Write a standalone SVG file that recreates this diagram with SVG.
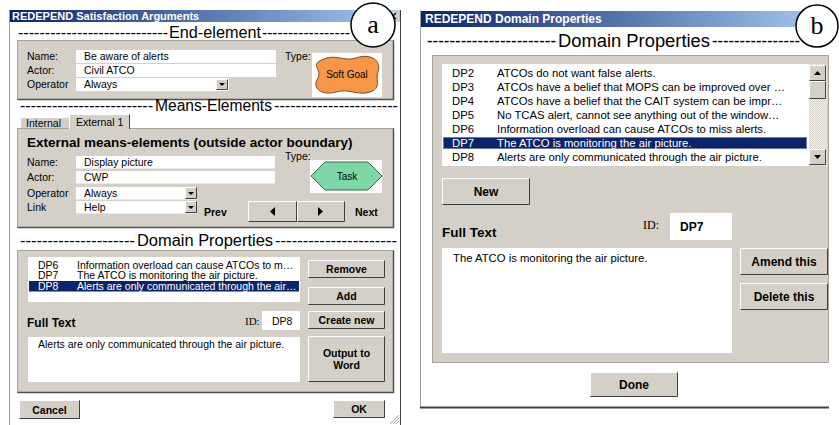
<svg xmlns="http://www.w3.org/2000/svg" width="839" height="425" viewBox="0 0 839 425">
<defs>
<linearGradient id="tb" x1="0" x2="1" y1="0" y2="0"><stop offset="0" stop-color="#0a246a"/><stop offset="1" stop-color="#a6caf0"/></linearGradient>
<pattern id="dither" width="2" height="2" patternUnits="userSpaceOnUse"><rect width="2" height="2" fill="#f4f3ef"/><rect width="1" height="1" fill="#d4d0c8"/><rect x="1" y="1" width="1" height="1" fill="#d4d0c8"/></pattern>
</defs>
<style>
text{font-family:"Liberation Sans",Arial,sans-serif;fill:#000}
.ttl{font-weight:bold;fill:#fff}
.hdr{font-size:16px}
.hdr2{font-size:18px}
.s{font-size:10.5px}
.m{font-size:11.3px}
.b{font-weight:bold}
.c{text-anchor:middle}
.wt{fill:#fff}
.ser{font-family:"Liberation Serif","Times New Roman",serif}
.panel{fill:#d4d0c8;stroke:#a8a49c}
.psh{fill:none;stroke:#505050;stroke-width:1.5}
.box{fill:#fff}
.btn{fill:#d4d0c8}
.hl{fill:none;stroke:#fff}
.sh{fill:none;stroke:#404040}
.sel{fill:#0a246a}
.tri{fill:#000}
.circ{fill:#fff;stroke:#000;stroke-width:1.5}
</style>

<g id="window-a">
<rect x="9" y="10" width="392" height="415" fill="#fff"/>
<line x1="9.5" y1="10" x2="9.5" y2="425" stroke="#a0a0a0"/>
<line x1="400.5" y1="10" x2="400.5" y2="425" stroke="#404040"/>
<rect x="10" y="10" width="390" height="12" fill="url(#tb)"/>
<text x="12" y="20" class="ttl" font-size="11">REDEPEND Satisfaction Arguments</text>
<g id="close-a"><rect x="387" y="11" width="12" height="10" class="btn"/><path d="M390 13 L396 19 M396 13 L390 19" stroke="#000" stroke-width="1.3"/></g>
</g>

<g id="end-element">
<text x="18" y="38" class="hdr" textLength="150" lengthAdjust="spacingAndGlyphs">----------------------------</text>
<text x="169" y="38" class="hdr" textLength="92" lengthAdjust="spacingAndGlyphs">End-element</text>
<text x="262" y="38" class="hdr" textLength="88" lengthAdjust="spacingAndGlyphs">-----------------</text>
<rect x="17.5" y="40.5" width="376" height="59" class="panel"/>
<path d="M17.5 99.5 H393.5 V40.5" class="psh"/>
<text x="27" y="60" class="s">Name:</text>
<text x="27" y="74" class="s">Actor:</text>
<text x="27" y="88" class="s">Operator</text>
<rect x="76" y="50" width="200" height="13" class="box"/>
<rect x="76" y="64" width="200" height="13" class="box"/>
<rect x="76" y="78" width="153" height="13" class="box"/>
<rect x="216" y="79" width="12" height="11" class="btn"/><path class="hl" d="M216.5 89 V79.5 H227"/><path class="sh" d="M216.5 89.5 H227.5 V79.5"/><polygon class="tri" points="219,83 225,83 222,86"/>
<text x="84" y="60" class="s">Be aware of alerts</text>
<text x="84" y="74" class="s">Civil ATCO</text>
<text x="84" y="88" class="s">Always</text>
<text x="285" y="60" class="s">Type:</text>
<rect x="312" y="53" width="70" height="44" fill="#fff"/>
<path d="M322 60 C334 53 344 62 356 58 C370 53 382 60 378 72 C375 80 382 88 370 92 C358 96 348 88 336 92 C322 96 311 88 318 78 C322 70 310 64 322 60 Z" fill="#f79646" stroke="#7a4a2a"/>
<text x="347" y="78" class="c" font-size="10">Soft Goal</text>
</g>

<g id="means-elements">
<text x="20" y="111" class="hdr" textLength="133" lengthAdjust="spacingAndGlyphs">-------------------------</text>
<text x="155" y="111" class="hdr" textLength="117" lengthAdjust="spacingAndGlyphs">Means-Elements</text>
<text x="274" y="111" class="hdr" textLength="124" lengthAdjust="spacingAndGlyphs">-----------------------</text>
<rect x="20" y="117" width="49" height="12" class="btn"/><path class="hl" d="M20.5 129 V117.5 H68"/>
<text x="26" y="126.5" class="s">Internal</text>
<rect x="17.5" y="128.5" width="376" height="99" class="panel"/>
<path d="M17.5 227.5 H393.5 V128.5" class="psh"/>
<rect x="69" y="114" width="61" height="16" class="btn"/><path class="hl" d="M69.5 129 V114.5 H129"/><path d="M129.5 114.5 V129" stroke="#404040"/>
<text x="76" y="125.5" class="s">External 1</text>
<text x="27" y="147" class="b" font-size="13.5">External means-elements (outside actor boundary)</text>
<text x="27" y="166" class="s">Name:</text>
<text x="27" y="181" class="s">Actor:</text>
<text x="27" y="197" class="s">Operator</text>
<text x="27" y="211" class="s">Link</text>
<rect x="76" y="156" width="199" height="12.5" class="box"/>
<rect x="76" y="171" width="199" height="12.5" class="box"/>
<rect x="76" y="187" width="121" height="12.5" class="box"/>
<rect x="76" y="201" width="121" height="12.5" class="box"/>
<rect x="185" y="187" width="12" height="12" class="btn"/><path class="hl" d="M185.5 198 V187.5 H196"/><path class="sh" d="M185.5 198.5 H196.5 V187.5"/><polygon class="tri" points="188,192 194,192 191,195"/>
<rect x="185" y="201" width="12" height="12" class="btn"/><path class="hl" d="M185.5 212 V201.5 H196"/><path class="sh" d="M185.5 212.5 H196.5 V201.5"/><polygon class="tri" points="188,206 194,206 191,209"/>
<text x="84" y="166" class="s">Display picture</text>
<text x="84" y="181" class="s">CWP</text>
<text x="84" y="197" class="s">Always</text>
<text x="84" y="211" class="s">Help</text>
<text x="285" y="160" class="s">Type:</text>
<rect x="310" y="160" width="72" height="33" fill="#fff"/>
<polygon points="311,176 325,162 368,162 382,176 368,190 325,190" fill="#80d6a6" stroke="#2f6b4a"/>
<text x="347" y="180" class="c" font-size="10">Task</text>
<text x="204" y="216" class="s b">Prev</text>
<rect x="248" y="201" width="49" height="21" class="btn"/><path class="hl" d="M248.5 221 V201.5 H296"/><path class="sh" d="M248.5 221.5 H296.5 V201.5"/><polygon class="tri" points="270,211.5 275,207 275,216"/>
<rect x="297" y="201" width="48" height="21" class="btn"/><path class="hl" d="M297.5 221 V201.5 H344"/><path class="sh" d="M297.5 221.5 H344.5 V201.5"/><polygon class="tri" points="318,207 318,216 323,211.5"/>
<text x="355" y="216" class="s b">Next</text>
</g>

<g id="domain-properties-a">
<text x="20" y="246" class="hdr" textLength="115" lengthAdjust="spacingAndGlyphs" fill="#333">---------------------</text>
<text x="137" y="246" class="hdr" textLength="136" lengthAdjust="spacingAndGlyphs">Domain Properties</text>
<text x="275" y="246" class="hdr" textLength="122" lengthAdjust="spacingAndGlyphs">----------------------</text>
<rect x="17.5" y="250.5" width="376" height="142" class="panel"/>
<path d="M17.5 392.5 H393.5 V250.5" class="psh"/>
<rect x="28" y="257" width="272" height="45" class="box"/>
<rect x="29" y="281" width="270" height="10.5" class="sel"/>
<text x="38" y="268.5" class="s">DP6</text><text x="77" y="268.5" class="s">Information overload can cause ATCOs to m…</text>
<text x="38" y="279" class="s">DP7</text><text x="77" y="279" class="s">The ATCO is monitoring the air picture.</text>
<text x="38" y="289.5" class="s wt">DP8</text><text x="77" y="289.5" class="s wt">Alerts are only communicated through the air…</text>
<rect x="308" y="260" width="77" height="18" class="btn"/><path class="hl" d="M308.5 277 V260.5 H384"/><path class="sh" d="M308.5 277.5 H384.5 V260.5"/>
<text x="346.5" y="273" class="s b c">Remove</text>
<rect x="308" y="287" width="77" height="18" class="btn"/><path class="hl" d="M308.5 304 V287.5 H384"/><path class="sh" d="M308.5 304.5 H384.5 V287.5"/>
<text x="346.5" y="300" class="s b c">Add</text>
<rect x="308" y="311" width="77" height="18" class="btn"/><path class="hl" d="M308.5 328 V311.5 H384"/><path class="sh" d="M308.5 328.5 H384.5 V311.5"/>
<text x="346.5" y="324" class="s b c">Create new</text>
<rect x="308" y="336" width="77" height="46" class="btn"/><path class="hl" d="M308.5 381 V336.5 H384"/><path class="sh" d="M308.5 381.5 H384.5 V336.5"/>
<text x="346.5" y="357" class="s b c">Output to</text>
<text x="346.5" y="369" class="s b c">Word</text>
<text x="27" y="327" class="b" font-size="12">Full Text</text>
<text x="245" y="325" class="ser" font-size="11">ID:</text>
<rect x="262" y="311" width="38" height="19" class="box"/>
<text x="272" y="324.5" class="s">DP8</text>
<rect x="28" y="337" width="272" height="45" class="box"/>
<text x="38" y="348" class="s">Alerts are only communicated through the air picture.</text>
</g>

<g id="footer-a">
<rect x="19" y="400" width="61" height="19" class="btn"/><path class="hl" d="M19.5 418 V400.5 H79"/><path class="sh" d="M19.5 418.5 H79.5 V400.5"/>
<text x="49.5" y="413.5" class="s b c">Cancel</text>
<rect x="333" y="400" width="52" height="18" class="btn"/><path class="hl" d="M333.5 417 V400.5 H384"/><path class="sh" d="M333.5 417.5 H384.5 V400.5"/>
<text x="359" y="413" class="s b c">OK</text>
<path d="M390 424 L399 415 M393 424 L399 418 M396 424 L399 421" stroke="#a0a0a0"/>
</g>

<g id="label-a">
<circle cx="373" cy="25" r="22" class="circ"/>
<text x="373" y="33" class="ser c" font-size="26">a</text>
</g>

<g id="window-b">
<rect x="420" y="10" width="409" height="398" fill="#fff"/>
<line x1="420.5" y1="10" x2="420.5" y2="408" stroke="#a0a0a0"/>
<line x1="420" y1="407.5" x2="829" y2="407.5" stroke="#404040" stroke-width="2"/>
<rect x="421" y="11" width="408" height="16" fill="url(#tb)"/>
<text x="425" y="23" class="ttl" font-size="12">REDEPEND Domain Properties</text>
</g>

<g id="domain-properties-b">
<text x="427" y="47" class="hdr2" textLength="129" lengthAdjust="spacingAndGlyphs">-----------------------</text>
<text x="558" y="47" class="hdr2" textLength="152" lengthAdjust="spacingAndGlyphs">Domain Properties</text>
<text x="712" y="47" class="hdr2" textLength="88" lengthAdjust="spacingAndGlyphs">----------------</text>
<rect x="432.5" y="55.5" width="396" height="307" class="panel"/>
<rect x="442" y="64" width="367" height="102" class="box"/>
<rect x="809" y="64" width="18" height="102" fill="url(#dither)"/>
<rect x="809" y="65" width="17" height="16" class="btn"/><path class="hl" d="M809.5 80 V65.5 H825"/><path class="sh" d="M809.5 80.5 H825.5 V65.5"/><polygon class="tri" points="814,75 821,75 817.5,71"/>
<rect x="809" y="81" width="17" height="18" class="btn"/><path class="hl" d="M809.5 98 V81.5 H825"/><path class="sh" d="M809.5 98.5 H825.5 V81.5"/>
<rect x="809" y="149" width="17" height="16" class="btn"/><path class="hl" d="M809.5 164 V149.5 H825"/><path class="sh" d="M809.5 164.5 H825.5 V149.5"/><polygon class="tri" points="814,155 821,155 817.5,159"/>
<rect x="443" y="137" width="364" height="12" class="sel"/>
<rect x="443.5" y="137.5" width="363" height="11" fill="none" stroke="#d4d0c8" stroke-dasharray="1 1"/>
<text x="452" y="77" class="m">DP2</text><text x="497" y="77" class="m">ATCOs do not want false alerts.</text>
<text x="452" y="91" class="m">DP3</text><text x="497" y="91" class="m">ATCOs have a belief that MOPS can be improved over …</text>
<text x="452" y="105" class="m">DP4</text><text x="497" y="105" class="m">ATCOs have a belief that the CAIT system can be impr…</text>
<text x="452" y="119" class="m">DP5</text><text x="497" y="119" class="m">No TCAS alert, cannot see anything out of the window…</text>
<text x="452" y="133" class="m">DP6</text><text x="497" y="133" class="m">Information overload can cause ATCOs to miss alerts.</text>
<text x="452" y="147" class="m wt">DP7</text><text x="497" y="147" class="m wt">The ATCO is monitoring the air picture.</text>
<text x="452" y="161" class="m">DP8</text><text x="497" y="161" class="m">Alerts are only communicated through the air picture.</text>
<rect x="442" y="178" width="88" height="27" class="btn"/><path class="hl" d="M442.5 204 V178.5 H529"/><path class="sh" d="M442.5 204.5 H529.5 V178.5"/>
<text x="486" y="196" class="b c" font-size="12">New</text>
<text x="442" y="237" class="b" font-size="13.5">Full Text</text>
<text x="643" y="229" class="ser" font-size="12">ID:</text>
<rect x="670" y="213" width="62" height="27" class="box"/>
<text x="680" y="231" class="b" font-size="12">DP7</text>
<rect x="442" y="248" width="290" height="105" class="box"/>
<text x="453" y="262" class="m">The ATCO is monitoring the air picture.</text>
<rect x="740" y="248" width="88" height="27" class="btn"/><path class="hl" d="M740.5 274 V248.5 H827"/><path class="sh" d="M740.5 274.5 H827.5 V248.5"/>
<text x="784" y="266" class="b c" font-size="12">Amend this</text>
<rect x="740" y="283" width="88" height="27" class="btn"/><path class="hl" d="M740.5 309 V283.5 H827"/><path class="sh" d="M740.5 309.5 H827.5 V283.5"/>
<text x="784" y="301" class="b c" font-size="12">Delete this</text>
</g>

<g id="footer-b">
<rect x="590" y="372" width="88" height="25" class="btn"/><path class="hl" d="M590.5 396 V372.5 H677"/><path class="sh" d="M590.5 396.5 H677.5 V372.5"/>
<text x="634" y="389" class="b c" font-size="12">Done</text>
</g>

<g id="label-b">
<circle cx="817" cy="26" r="21" class="circ"/>
<text x="817" y="34" class="ser c" font-size="26">b</text>
</g>

<g id="connectors"></g>
</svg>
